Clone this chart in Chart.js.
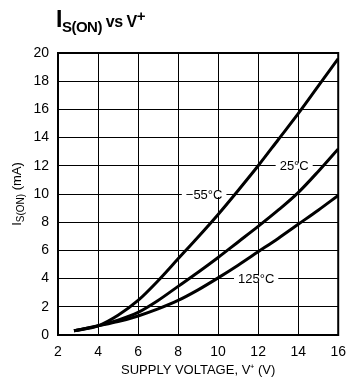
<!DOCTYPE html>
<html>
<head>
<meta charset="utf-8">
<script src="https://cdn.jsdelivr.net/npm/chart.js@4.4.1/dist/chart.umd.min.js"></script>
<style>
  body { margin: 0; background: #fff; }
  #wrap { position: relative; width: 355px; height: 378px; }
  #title {
    position: absolute; left: 56px; top: 6px;
    font-family: 'Liberation Sans Narrow', 'Arial Narrow', 'Liberation Sans', sans-serif;
    font-weight: bold; color: #000; white-space: nowrap; letter-spacing: -0.5px;
  }
  #title .big { font-size: 23px; }
  #title sub { font-size: 15px; vertical-align: -5px; }
  #title .vs { font-size: 16px; }
  #title sup { font-size: 15px; vertical-align: 6px; }
</style>
</head>
<body>
<div id="wrap">
  <div id="title"><span class="big">I</span><sub>S(ON)</sub><span class="vs"> vs V</span><sup>+</sup></div>
  <canvas id="chart" width="355" height="378"></canvas>
</div>
<script>
// data
const voltage  = [2.8, 4, 5, 6, 7, 8, 9, 10, 11, 12, 13, 14, 15, 16];
const iMinus55 = [0.3, 0.65, 1.4, 2.45, 3.85, 5.4, 6.95, 8.55, 10.25, 12.0, 13.85, 15.7, 17.65, 19.6];
const i25      = [0.3, 0.65, 1.05, 1.6, 2.45, 3.45, 4.45, 5.5, 6.6, 7.7, 8.85, 10.1, 11.6, 13.2];
const i125     = [0.3, 0.65, 0.95, 1.35, 1.85, 2.45, 3.2, 4.05, 4.95, 5.9, 6.85, 7.85, 8.85, 9.9];
const curveNames = ['\u221255\u00b0C', '25\u00b0C', '125\u00b0C'];
const xTicks = [2, 4, 6, 8, 10, 12, 14, 16];
const yTicks = [0, 2, 4, 6, 8, 10, 12, 14, 16, 18, 20];

// where the curve names sit (data units)
const labelAt = [[9.3, 10], [13.8, 12], [11.9, 4]];

const FONT = "'Liberation Sans Narrow', 'Arial Narrow', 'Liberation Sans', sans-serif";

function series(ys) {
  return voltage.map((v, i) => ({ x: v, y: ys[i] }));
}

const curveLabels = {
  id: 'curveLabels',
  beforeDatasetsDraw(chart) {
    const ctx = chart.ctx;
    const xs = chart.scales.x, ys = chart.scales.y;
    ctx.save();
    ctx.font = '13px ' + FONT;
    ctx.textBaseline = 'middle';
    ctx.textAlign = 'center';
    curveNames.forEach((name, i) => {
      const px = xs.getPixelForValue(labelAt[i][0]);
      const py = ys.getPixelForValue(labelAt[i][1]);
      const w = ctx.measureText(name).width + 8;
      ctx.fillStyle = '#fff';
      ctx.fillRect(px - w / 2, py - 3, w, 6);
      ctx.fillStyle = '#000';
      ctx.fillText(name, px, py + 1);
    });
    ctx.restore();
  },
  afterDraw(chart) {
    const ctx = chart.ctx, a = chart.chartArea;
    ctx.save();
    ctx.strokeStyle = '#000';
    ctx.lineWidth = 2;
    ctx.strokeRect(a.left, a.top, a.right - a.left, a.bottom - a.top);

    // y title with subscript
    ctx.translate(17, (a.top + a.bottom) / 2);
    ctx.rotate(-Math.PI / 2);
    ctx.fillStyle = '#000';
    ctx.textBaseline = 'middle';
    const big = '13px ' + FONT, small = '10px ' + FONT;
    ctx.font = big; const w1 = ctx.measureText('I').width;
    ctx.font = small; const w2 = ctx.measureText('S(ON)').width;
    ctx.font = big; const w3 = ctx.measureText(' (mA)').width;
    let x = -(w1 + w2 + w3) / 2;
    ctx.textAlign = 'left';
    ctx.font = big; ctx.fillText('I', x, 0); x += w1;
    ctx.font = small; ctx.fillText('S(ON)', x, 4); x += w2;
    ctx.font = big; ctx.fillText(' (mA)', x, 0);
    ctx.restore();
  }
};

const lineStyle = {
  borderColor: '#000',
  borderWidth: 3,
  pointRadius: 0,
  fill: false,
  cubicInterpolationMode: 'monotone'
};

new Chart(document.getElementById('chart'), {
  type: 'line',
  data: {
    datasets: [
      { label: curveNames[0], data: series(iMinus55), ...lineStyle },
      { label: curveNames[1], data: series(i25), ...lineStyle },
      { label: curveNames[2], data: series(i125), ...lineStyle }
    ]
  },
  options: {
    responsive: false,
    animation: false,
    layout: { padding: { top: 53, right: 9, left: 0, bottom: 0 } },
    plugins: {
      legend: { display: false },
      tooltip: { enabled: false }
    },
    scales: {
      x: {
        type: 'linear',
        min: 2, max: 16,
        afterBuildTicks: s => { s.ticks = xTicks.map(v => ({ value: v })); },
        afterFit: s => { s.height = 43; },
        grid: { color: '#000', lineWidth: 1, drawTicks: false },
        border: { color: '#000', width: 2 },
        ticks: { color: '#000', padding: 9, font: { family: FONT, size: 14 } },
        title: {
          display: true,
          text: 'SUPPLY VOLTAGE, V\u207a (V)',
          color: '#000',
          padding: { top: 0, bottom: 0 },
          font: { family: FONT, size: 13 }
        }
      },
      y: {
        min: 0, max: 20,
        afterBuildTicks: s => { s.ticks = yTicks.map(v => ({ value: v })); },
        afterFit: s => { s.width = 58; },
        grid: { color: '#000', lineWidth: 1, drawTicks: false },
        border: { color: '#000', width: 2 },
        ticks: { color: '#000', padding: 9, font: { family: FONT, size: 14 } }
      }
    }
  },
  plugins: [curveLabels]
});
</script>
</body>
</html>
